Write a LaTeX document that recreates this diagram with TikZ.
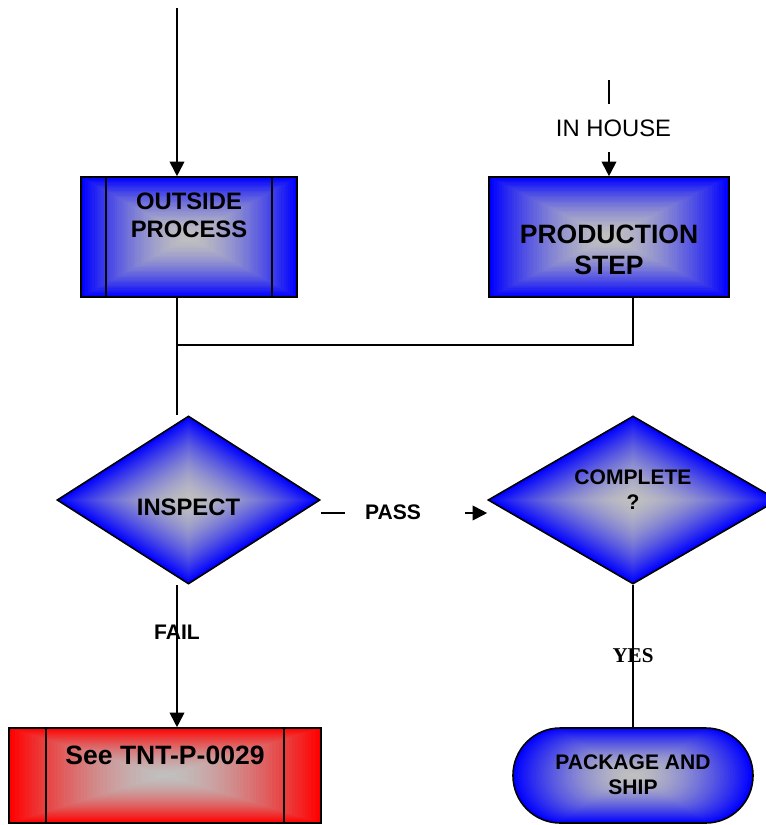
\documentclass[tikz,border=0pt]{standalone}
\usepackage{fontspec}
\setmainfont{Liberation Sans}
\newfontfamily\serifbold{Liberation Serif}
\usetikzlibrary{calc,arrows.meta,shapes.geometric}
\definecolor{cblue}{RGB}{0,0,255}
\definecolor{cred}{RGB}{255,0,0}
\definecolor{cgray}{RGB}{192,192,192}
\tikzset{
  conn/.style={line width=1.4pt},
  arr/.style={conn,-{Triangle[width=11pt,length=11pt]}},
  boxline/.style={line width=1.2pt},
  shapebase/.style={draw,line width=1.2pt,inner sep=0pt},
  gradrect/.style={path picture={
    \foreach \gk in {0,...,48}{
      \pgfmathsetmacro\gs{1-\gk/48}
      \pgfmathsetmacro\gm{100*\gs^1.6}
      \fill[#1!\gm!cgray] ($(path picture bounding box.center)!\gs!(path picture bounding box.south west)$) rectangle ($(path picture bounding box.center)!\gs!(path picture bounding box.north east)$);
    }}},
  graddiam/.style={path picture={
    \foreach \gk in {0,...,48}{
      \pgfmathsetmacro\gs{1-\gk/48}
      \pgfmathsetmacro\gm{100*\gs^1.6}
      \fill[#1!\gm!cgray] ($(path picture bounding box.center)!\gs!(path picture bounding box.north)$) -- ($(path picture bounding box.center)!\gs!(path picture bounding box.east)$) -- ($(path picture bounding box.center)!\gs!(path picture bounding box.south)$) -- ($(path picture bounding box.center)!\gs!(path picture bounding box.west)$) -- cycle;
    }}},
  gradstad/.style={path picture={
    \foreach \gk in {0,...,48}{
      \pgfmathsetmacro\gs{1-\gk/48}
      \pgfmathsetmacro\gm{100*\gs^1.6}
      \pgfmathsetmacro\gr{35.5*\gs+0.01}
      \fill[#1!\gm!cgray,rounded corners=\gr pt] ($(path picture bounding box.center)!\gs!(path picture bounding box.south west)$) rectangle ($(path picture bounding box.center)!\gs!(path picture bounding box.north east)$);
    }}},
  bigtxt/.style={inner sep=0pt,align=center,font={\fontsize{19.9}{23.25}\selectfont\bfseries}},
  midtxt/.style={inner sep=0pt,align=center,font={\fontsize{17.85}{21}\selectfont\bfseries}},
  midreg/.style={inner sep=0pt,align=center,font={\fontsize{17.85}{21}\selectfont}},
  smalltxt/.style={inner sep=0pt,align=center,font={\fontsize{15.8}{18.75}\selectfont\bfseries}},
  yestxt/.style={inner sep=0pt,font={\fontsize{15.8}{18.75}\serifbold\bfseries}},
}
\begin{document}
\begin{tikzpicture}[x=0.75pt,y=-0.75pt]
\useasboundingbox (0,0) rectangle (766,825);
\clip (0,0) rectangle (766,825);

% shapes
\node[shapebase,rectangle,gradrect=cblue,minimum width=162pt,minimum height=90pt] (out) at (189,237) {};
\draw[boxline] ([xshift=19.5pt]out.north west) -- ([xshift=19.5pt]out.south west);
\draw[boxline] ([xshift=-19.5pt]out.north east) -- ([xshift=-19.5pt]out.south east);
\node[midtxt] (outT) at (189,215) {OUTSIDE\\PROCESS};

\node[shapebase,rectangle,gradrect=cblue,minimum width=180pt,minimum height=90pt] (prod) at (609,237) {};
\node[bigtxt] (prodT) at (609,249.5) {PRODUCTION\\STEP};

\node[shapebase,diamond,graddiam=cblue,minimum width=197.25pt,minimum height=126pt] (insp) at (188.5,500) {};
\node[midtxt] (inspT) at (188.5,507) {INSPECT};

\node[shapebase,diamond,graddiam=cblue,minimum width=217.5pt,minimum height=126pt] (compl) at (633,500) {};
\node[smalltxt] (complT) at (633,489.5) {COMPLETE\\?};

\node[shapebase,rectangle,gradrect=cred,minimum width=234pt,minimum height=71.25pt] (see) at (165,775.5) {};
\draw[boxline] ([xshift=28.5pt]see.north west) -- ([xshift=28.5pt]see.south west);
\draw[boxline] ([xshift=-28.5pt]see.north east) -- ([xshift=-28.5pt]see.south east);
\node[bigtxt] (seeT) at (165,755) {See TNT-P-0029};

\node[shapebase,rectangle,rounded corners=35.5pt,gradstad=cblue,minimum width=180pt,minimum height=71.25pt] (pack) at (633,775.5) {};
\node[smalltxt] (packT) at (633,774.5) {PACKAGE AND\\SHIP};

% connectors
\coordinate (t0) at (177,8);
\draw[arr] (t0) -- (t0 |- out.north);

\coordinate (ih1) at (609,80);
\coordinate (ih2) at (609,104);
\coordinate (ih3) at (609,152);
\draw[conn] (ih1) -- (ih2);
\node[midreg] (inhouse) at (613.5,128) {IN HOUSE};
\draw[arr] (ih3) -- (prod.north);

\draw[conn] (out.south -| t0) -- (t0 |- insp.north);
\coordinate (j) at (177,345);
\draw[conn] (prod.south -| compl.north) |- (j);

\coordinate (pa) at (345,513);
\coordinate (pb) at (465,513);
\draw[conn] (insp.east |- pa) -- (pa);
\node[smalltxt] (pass) at (393,512) {PASS};
\draw[arr] (pb) -- (compl.west |- pb);

\draw[arr] (insp.south -| t0) -- node[smalltxt,pos=0.333] (fail) {FAIL} (t0 |- see.north);
\draw[conn] (compl.south) -- node[yestxt,pos=0.5] (yes) {YES} (pack.north);
\end{tikzpicture}
\end{document}
